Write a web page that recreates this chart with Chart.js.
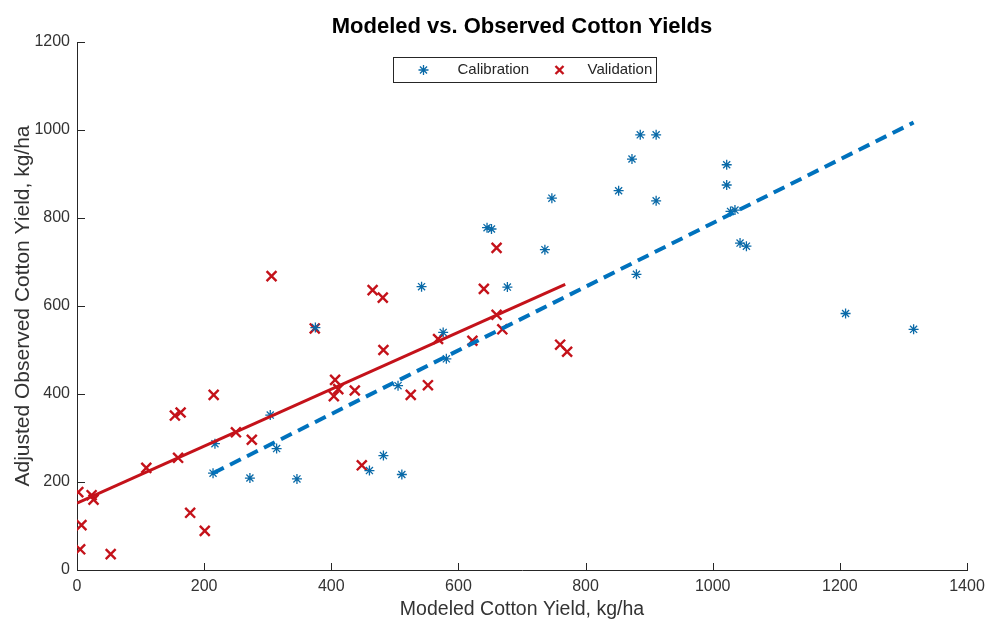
<!DOCTYPE html>
<html>
<head>
<meta charset="utf-8">
<title>Modeled vs. Observed Cotton Yields</title>
<script src="https://cdn.jsdelivr.net/npm/chart.js@4.4.1/dist/chart.umd.min.js"></script>
<style>
  html, body { margin: 0; padding: 0; background: #fff; }
  #chartCanvas { display: block; }
</style>
</head>
<body>
<canvas id="chartCanvas" width="987" height="621"></canvas>
<script>
var chartTitle = "Modeled vs. Observed Cotton Yields";
var xTitle = "Modeled Cotton Yield, kg/ha";
var yTitle = "Adjusted Observed Cotton Yield, kg/ha";
var seriesNames = ["Calibration", "Validation"];

var xTicks = [0, 200, 400, 600, 800, 1000, 1200, 1400];
var yTicks = [0, 200, 400, 600, 800, 1000, 1200];

// calibration points (blue *)
var calX = [214, 217, 272, 314, 304, 346, 375, 460, 482, 511, 505, 542, 576, 581, 645, 652, 677, 736, 747, 880, 852, 873, 886, 911, 911, 1022, 1022, 1028, 1035, 1043, 1053, 1209, 1316];
var calY = [220, 287, 209, 276, 352, 207, 551, 226, 260, 217, 419, 644, 540, 480, 778, 775, 643, 728, 845, 672, 862, 934, 989, 989, 839, 921, 875, 815, 818, 743, 736, 583, 547];

// validation points (red x)
var valX = [2, 7, 5, 53, 23, 26, 109, 154, 163, 159, 178, 201, 215, 250, 275, 306, 374, 404, 406, 411, 437, 448, 465, 481, 482, 525, 552, 568, 622, 640, 660, 669, 660, 760, 771];
var valY = [177, 102, 47, 36, 170, 160, 232, 351, 358, 255, 130, 89, 398, 313, 296, 668, 549, 395, 432, 411, 408, 238, 636, 619, 500, 398, 420, 525, 521, 639, 580, 547, 732, 512, 496];

// fitted lines
var calFitX = [214, 1316];
var calFitY = [220, 1017];
var valFitX = [0, 768];
var valFitY = [152, 649];

var blueMark = "#0a6aa8";
var blueLine = "#0072bd";
var redMark = "#c4121a";
var axisColor = "#262626";
var textColor = "#333333";
var fontFamily = "'Liberation Sans', Arial, Helvetica, sans-serif";

function toPoints(xs, ys) {
  var pts = [];
  for (var i = 0; i < xs.length; i++) {
    pts.push({ x: xs[i], y: ys[i] });
  }
  return pts;
}

function plainLabel(value) {
  return String(value);
}

// MATLAB style ticks pointing into the plot
var inwardTicks = {
  id: "inwardTicks",
  afterDraw: function (chart) {
    var c = chart.ctx;
    var area = chart.chartArea;
    var xs = chart.scales.x;
    var ys = chart.scales.y;
    c.save();
    c.strokeStyle = axisColor;
    c.lineWidth = 1;
    c.beginPath();
    for (var i = 0; i < xTicks.length; i++) {
      var px = Math.round(xs.getPixelForValue(xTicks[i])) + 0.5;
      c.moveTo(px, area.bottom);
      c.lineTo(px, area.bottom - 7);
    }
    for (var j = 0; j < yTicks.length; j++) {
      var py = Math.round(ys.getPixelForValue(yTicks[j])) + 0.5;
      c.moveTo(area.left, py);
      c.lineTo(area.left + 8, py);
    }
    c.stroke();
    c.restore();
  },
};

function drawStar(c, x, y, r) {
  c.beginPath();
  c.moveTo(x - r, y);
  c.lineTo(x + r, y);
  c.moveTo(x, y - r);
  c.lineTo(x, y + r);
  var d = r * 0.707;
  c.moveTo(x - d, y - d);
  c.lineTo(x + d, y + d);
  c.moveTo(x - d, y + d);
  c.lineTo(x + d, y - d);
  c.stroke();
}

function drawCross(c, x, y, r) {
  c.beginPath();
  c.moveTo(x - r, y - r);
  c.lineTo(x + r, y + r);
  c.moveTo(x - r, y + r);
  c.lineTo(x + r, y - r);
  c.stroke();
}

// boxed legend inside the plot, like the MATLAB one
var boxLegend = {
  id: "boxLegend",
  afterDraw: function (chart) {
    var c = chart.ctx;
    var area = chart.chartArea;
    var w = 263, h = 25;
    var left = Math.round((area.left + area.right) / 2 - w / 2 + 2) + 0.5;
    var top = Math.round(area.top + 15) + 0.5;
    var mid = top + h / 2;
    c.save();
    c.fillStyle = "#fff";
    c.fillRect(left, top, w, h);
    c.strokeStyle = axisColor;
    c.lineWidth = 1;
    c.strokeRect(left, top, w, h);

    c.strokeStyle = blueMark;
    c.lineWidth = 1.3;
    drawStar(c, left + 30, mid, 5);
    c.strokeStyle = redMark;
    c.lineWidth = 2.4;
    drawCross(c, left + 166, mid, 4);

    c.fillStyle = axisColor;
    c.font = "15px " + fontFamily;
    c.textBaseline = "middle";
    c.textAlign = "left";
    c.fillText(seriesNames[0], left + 64, mid);
    c.fillText(seriesNames[1], left + 194, mid);
    c.restore();
  },
};

var ctx = document.getElementById("chartCanvas").getContext("2d");

var chart = new Chart(ctx, {
  type: "scatter",
  data: {
    datasets: [
      {
        type: "line",
        label: seriesNames[0] + " fit",
        data: toPoints(calFitX, calFitY),
        borderColor: blueLine,
        borderWidth: 4,
        borderDash: [12, 7],
        pointRadius: 0,
        fill: false,
        order: 0,
      },
      {
        type: "line",
        label: seriesNames[1] + " fit",
        data: toPoints(valFitX, valFitY),
        borderColor: redMark,
        borderWidth: 3,
        pointRadius: 0,
        fill: false,
        order: 0,
      },
      {
        label: seriesNames[0],
        data: toPoints(calX, calY),
        pointStyle: "star",
        pointRadius: 5,
        borderColor: blueMark,
        backgroundColor: blueMark,
        pointBorderWidth: 1.3,
        order: 1,
      },
      {
        label: seriesNames[1],
        data: toPoints(valX, valY),
        pointStyle: "crossRot",
        pointRadius: 7,
        borderColor: redMark,
        backgroundColor: redMark,
        pointBorderWidth: 2.4,
        order: 1,
      },
    ],
  },
  options: {
    responsive: false,
    animation: false,
    devicePixelRatio: 1,
    layout: {
      padding: { left: 0, right: 20, top: 0, bottom: 0 },
    },
    scales: {
      x: {
        type: "linear",
        min: 0,
        max: 1400,
        afterBuildTicks: function (scale) {
          scale.ticks = xTicks.map(function (v) { return { value: v }; });
        },
        afterFit: function (scale) {
          scale.height = 51;
          scale.paddingLeft = 0;
          scale.paddingRight = 0;
        },
        grid: { display: false, drawTicks: false },
        border: { display: true, color: axisColor, width: 1 },
        ticks: {
          padding: 7,
          color: textColor,
          font: { family: fontFamily, size: 16 },
          maxRotation: 0,
          callback: plainLabel,
        },
        title: {
          display: true,
          text: xTitle,
          color: textColor,
          font: { family: fontFamily, size: 19.5, lineHeight: 1 },
          padding: { top: 0, bottom: 2 },
        },
      },
      y: {
        type: "linear",
        min: 0,
        max: 1200,
        afterBuildTicks: function (scale) {
          scale.ticks = yTicks.map(function (v) { return { value: v }; });
        },
        afterFit: function (scale) {
          scale.width = 77;
        },
        grid: { display: false, drawTicks: false },
        border: { display: true, color: axisColor, width: 1 },
        ticks: {
          padding: 7,
          color: textColor,
          font: { family: fontFamily, size: 16 },
          callback: plainLabel,
        },
        title: {
          display: true,
          text: yTitle,
          color: textColor,
          font: { family: fontFamily, size: 21, lineHeight: 1 },
          padding: { top: 13, bottom: 0 },
        },
      },
    },
    plugins: {
      legend: { display: false },
      tooltip: { enabled: false },
      title: {
        display: true,
        fullSize: false,
        text: chartTitle,
        color: "#000",
        font: { family: fontFamily, size: 22, weight: "bold", lineHeight: 1.2 },
        padding: { top: 14, bottom: 1.6 },
      },
    },
  },
  plugins: [inwardTicks, boxLegend],
});
</script>
</body>
</html>
